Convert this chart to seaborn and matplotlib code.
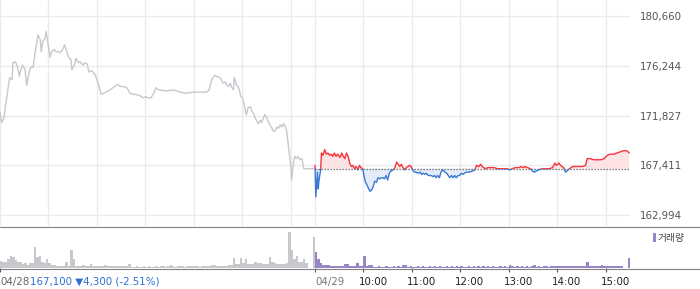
import numpy as np
import pandas as pd
import matplotlib
matplotlib.use("Agg")
import matplotlib.pyplot as plt
import matplotlib.transforms as mtrans
from matplotlib.patches import Rectangle
from matplotlib.lines import Line2D
import seaborn as sns

# ---------------- data ----------------
# minutes after 09:00 and price for 04/28 (previous session, grey)
day1_minute = [0, 2, 5, 7, 9, 11, 12, 15, 16, 19, 21, 24, 25, 27, 28, 31, 33, 36, 38, 41,
               43, 45, 47, 50, 51, 53, 56, 57, 59, 62, 64, 67, 69, 72, 74, 77, 80, 83, 85, 88,
               89, 92, 94, 97, 99, 103, 105, 108, 110, 114, 118, 120, 123, 125, 128, 131, 136, 140, 144, 146,
               149, 152, 157, 161, 165, 168, 173, 177, 180, 183, 187, 191, 193, 196, 198, 206, 215, 223, 231, 239,
               248, 256, 259, 262, 266, 268, 272, 274, 276, 279, 281, 283, 285, 287, 289, 290, 291, 293, 295, 297,
               298, 300, 302, 304, 305, 307, 310, 312, 314, 316, 318, 320, 322, 324, 326, 328, 330, 332, 334, 336,
               338, 340, 343, 345, 347, 349, 351, 353, 355, 357, 358, 360, 361, 363, 365, 367, 369, 371, 374, 376,
               380, 386, 389]
day1_price = [172100, 171200, 171600, 172800, 173700, 174800, 175200, 175000, 176500, 176600,
              176300, 175300, 175700, 176100, 176300, 175900, 174500, 175600, 176100, 176100,
              177200, 178100, 179000, 178500, 177500, 178400, 178700, 179300, 178400, 177000,
              177500, 177700, 177500, 177500, 177400, 177600, 178100, 177400, 177000, 176800,
              175900, 176300, 176900, 176500, 176600, 176300, 176500, 176400, 175700, 175800,
              175400, 175000, 174300, 173700, 173800, 173900, 174100, 174300, 174500, 174600,
              174400, 174400, 174300, 173800, 173700, 173700, 173600, 173400, 173500, 173400,
              173400, 173900, 174300, 174100, 174100, 174000, 174100, 173900, 173800, 173900,
              173900, 173900, 174100, 175000, 175400, 175300, 175200, 175000, 174700, 174800,
              174500, 174400, 174700, 174300, 174100, 175200, 175000, 174500, 174400, 173900,
              173500, 173400, 172900, 172200, 171900, 172500, 172600, 172200, 172000, 171600,
              171300, 171100, 171400, 171200, 171600, 171900, 171700, 171300, 171000, 170800,
              170500, 170400, 170800, 170700, 171000, 170800, 171100, 170900, 170400, 169200,
              168600, 167400, 166100, 167400, 168200, 168000, 168200, 167900, 168000, 167100,
              167100, 167100, 167100]

# minutes after 09:00 and price for 04/29 (current session)
day2_minute = [0, 1, 3, 4, 5, 7, 8, 10, 12, 14, 16, 18, 20, 22, 24, 26, 28, 31, 33, 35,
               37, 39, 41, 43, 45, 47, 49, 51, 53, 55, 57, 59, 62, 64, 66, 68, 70, 72, 74, 76,
               78, 80, 82, 84, 86, 88, 90, 92, 94, 97, 99, 101, 103, 105, 107, 109, 111, 113, 115, 117,
               119, 121, 123, 125, 128, 130, 132, 134, 136, 138, 140, 142, 144, 146, 148, 150, 152, 154, 156, 158,
               161, 163, 165, 167, 169, 171, 173, 175, 177, 179, 181, 183, 185, 187, 191, 195, 198, 200, 203, 205,
               207, 209, 211, 214, 218, 222, 226, 230, 234, 238, 241, 244, 248, 253, 255, 258, 260, 263, 267, 269,
               272, 274, 277, 281, 286, 290, 294, 297, 299, 302, 304, 306, 308, 310, 312, 315, 319, 323, 327, 331,
               335, 337, 341, 345, 349, 354, 358, 362, 366, 370, 374, 378, 382, 386, 389]
day2_price = [167400, 164600, 166800, 165300, 166100, 167000, 168500, 168300, 168800, 168400,
              168500, 168300, 168400, 168200, 168500, 168200, 168400, 168100, 168500, 168200,
              168000, 168500, 168200, 167600, 167300, 167400, 167100, 167300, 167000, 167400,
              167200, 167100, 166000, 165700, 165400, 165100, 165200, 165500, 166000, 165900,
              166300, 166200, 166300, 166300, 166200, 166500, 166100, 166700, 166900, 167000,
              167200, 167700, 167500, 167300, 167500, 167200, 167000, 167200, 167300, 167400,
              167300, 167000, 166800, 166800, 166700, 166800, 166600, 166700, 166600, 166700,
              166500, 166500, 166500, 166400, 166500, 166300, 166500, 166300, 166800, 167000,
              166800, 166700, 166500, 166300, 166500, 166300, 166500, 166300, 166500, 166500,
              166700, 166600, 166700, 166800, 166800, 166900, 167000, 167400, 167300, 167500,
              167300, 167200, 167100, 167200, 167200, 167200, 167100, 167100, 167100, 167100,
              167000, 167100, 167200, 167200, 167300, 167200, 167300, 167200, 167100, 166900,
              166800, 166900, 167000, 167100, 167100, 167100, 167200, 167600, 167400, 167600,
              167400, 167300, 167200, 166800, 166900, 167100, 167300, 167300, 167300, 167300,
              167400, 168000, 168000, 167900, 167900, 167900, 168000, 168300, 168400, 168400,
              168500, 168600, 168700, 168700, 168500]

prev_close = 167100          # 04/28 close (dotted reference line)
session_minutes = 390        # 09:00 - 15:30
volume_step = 3              # minutes per volume bar

# volume (thousand shares) per 3-minute bucket
day1_volume = [7, 6, 6, 9, 12, 11, 8, 6, 6, 4,
               5, 3, 5, 5, 21, 11, 12, 6, 5, 9,
               5, 3, 3, 2, 2, 2, 2, 6, 2, 18,
               9, 2, 2, 2, 3, 2, 2, 4, 2, 2,
               2, 2, 2, 3, 2, 2, 2, 2, 2, 2,
               2, 2, 2, 4, 1.5, 1.5, 2, 1.5, 1.5, 2,
               1.5, 2, 1.5, 1.5, 2, 1.5, 2, 2, 1.5, 2,
               3, 2, 1.5, 2, 2, 2, 1.5, 2, 2, 2,
               2, 2, 1.5, 2, 2, 2, 2, 3, 3, 2,
               2, 2, 2, 2, 3, 3, 10, 4, 4, 10,
               5, 9, 4, 4, 4, 6, 5, 5, 4, 4,
               4, 11, 6, 5, 4, 4, 4, 4, 5, 36,
               18, 9, 12, 6, 6, 9, 5, 0, 0, 31]
day2_volume = [16, 9, 5, 3.5, 3.5, 3, 2, 2, 2, 2,
               2, 2, 4, 4, 2, 2, 2, 5, 2, 2,
               12, 2, 3, 3, 1.5, 1.5, 2, 1.5, 1.5, 2,
               1.5, 1.5, 2, 1.5, 2, 1.5, 3, 3, 1.5, 2,
               1.5, 1.5, 2, 1.5, 2, 1.5, 1.5, 2, 1.5, 2,
               1.5, 2, 1.5, 1.5, 2, 1.5, 2, 1.5, 2, 1.5,
               2, 1.5, 1.5, 2, 1.5, 2, 1.5, 2, 1.5, 2,
               1.5, 2, 1.5, 2, 1.5, 1.5, 2, 1.5, 2, 1.5,
               3, 2, 1.5, 2, 1.5, 2, 1.5, 2, 1.5, 2,
               3, 1.5, 2, 1.5, 2, 2, 1.5, 2, 2, 2,
               2, 2, 2, 2, 2.5, 2, 2, 2, 2, 2,
               2, 2, 6, 2, 2, 2, 2, 2, 3, 2,
               2, 2, 2, 2, 2, 2, 2, 0, 0, 10]

price_ticks = [180660, 176244, 171827, 167411, 162994]
date_labels = ["04/28", "04/29"]
hour_labels = ["10:00", "11:00", "12:00", "13:00", "14:00", "15:00"]
change_text = "167,100 ▼4,300 (-2.51%)"
volume_label = "거래량"

# ---------------- style ----------------
sns.set_theme(style="white")
plt.rcParams["font.family"] = ["DejaVu Sans", "Noto Sans CJK KR"]

GREY_LINE = "#c6c8ce"
RED = "#f2363d"
BLUE = "#3a78d4"
RED_FILL = "#fde3e4"
BLUE_FILL = "#e3ecf8"
GRID = "#ebebeb"
VOL_GREY = "#c8c8cc"
VOL_PURPLE = "#9785c8"
FS = 7.4

W, H = 700, 289
def fx(px):
    return px / W
def fy(py):
    return 1 - py / H

fig = plt.figure(figsize=(W / 100, H / 100), dpi=100)
fig.patch.set_facecolor("white")

axp = fig.add_axes([0, fy(226), fx(630), 226 / H])
axv = fig.add_axes([0, fy(268), fx(630), 42 / H])

# ---------------- price panel ----------------
t1 = np.array(day1_minute, dtype=float)
t2 = np.array(day2_minute, dtype=float) + session_minutes
p2 = np.array(day2_price, dtype=float)
df1 = pd.DataFrame({"t": t1, "price": day1_price})
df2 = pd.DataFrame({"t": t2, "price": p2})

axp.fill_between(t2, p2, prev_close, where=p2 >= prev_close, interpolate=True,
                 color=RED_FILL, lw=0, zorder=1)
axp.fill_between(t2, p2, prev_close, where=p2 <= prev_close, interpolate=True,
                 color=BLUE_FILL, lw=0, zorder=1)
axp.plot([session_minutes, 2 * session_minutes], [prev_close, prev_close],
         ls=(0, (1, 1.4)), color="#555555", lw=0.9, zorder=2)

sns.lineplot(data=df1, x="t", y="price", color=GREY_LINE, linewidth=1.0,
             estimator=None, ax=axp, zorder=3)
sns.lineplot(data=df2, x="t", y="price", color=RED, linewidth=1.0,
             estimator=None, ax=axp, zorder=3)
red_line = axp.lines[-1]
sns.lineplot(data=df2, x="t", y="price", color=BLUE, linewidth=1.0,
             estimator=None, ax=axp, zorder=3)
blue_line = axp.lines[-1]
red_line.set_clip_path(Rectangle((session_minutes - 1, prev_close), 400, 40000,
                                 transform=axp.transData))
blue_line.set_clip_path(Rectangle((session_minutes - 1, prev_close - 40000), 400, 40000,
                                  transform=axp.transData))

grid_x = [0, 60, 120, 180, 240, 300, 360, 390, 450, 510, 570, 630, 690, 750]
axp.set_xticks(grid_x)
axp.set_yticks(price_ticks)
axp.set_yticklabels([f"{v:,}" for v in price_ticks])
axp.grid(True, color=GRID, lw=1.0)
axp.set_axisbelow(True)
axp.set_xlim(0, 2 * session_minutes)
axp.set_ylim(162018, 182080)
axp.yaxis.tick_right()
axp.tick_params(axis="x", length=0, labelbottom=False)
axp.tick_params(axis="y", length=0, pad=7.2, labelsize=FS, labelcolor="#555555",
                labelright=True, labelleft=False)
axp.set_xlabel("")
axp.set_ylabel("")
for s in axp.spines.values():
    s.set_visible(False)

# ---------------- volume panel ----------------
vt1 = np.arange(len(day1_volume)) * volume_step
vt2 = np.arange(len(day2_volume)) * volume_step + session_minutes
axv.bar(vt1, day1_volume, width=volume_step, align="edge", color=VOL_GREY, lw=0)
axv.bar(vt2, day2_volume, width=volume_step, align="edge", color=VOL_PURPLE, lw=0)
axv.set_xlim(0, 2 * session_minutes)
axv.set_ylim(0, 42)
axv.set_yticks([])
axv.set_xlabel("")
axv.set_ylabel("")
tick_x = [0, 390, 450, 510, 570, 630, 690, 750]
axv.set_xticks(tick_x)
axv.tick_params(axis="x", bottom=True, length=2.9, width=0.8, color="#555555",
                direction="out", labelbottom=False)
for s in axv.spines.values():
    s.set_visible(False)

# separator / axis lines spanning full width
for ypx in (226.5, 268.5):
    fig.add_artist(Line2D([0, 1], [fy(ypx), fy(ypx)], transform=fig.transFigure,
                          color="#808080", lw=0.8, zorder=10))

# x labels
trans = mtrans.blended_transform_factory(axv.transData, fig.transFigure)
shift = mtrans.ScaledTranslation(-5 / 100, 0, fig.dpi_scale_trans)
label_y = fy(282)
first = axv.text(0, label_y, date_labels[0], transform=trans, ha="left", va="center",
                 fontsize=FS, color="#666666", clip_on=False)
axv.annotate(change_text, xy=(1, 0.5), xycoords=first, xytext=(0.5, 0),
             textcoords="offset points", ha="left", va="center",
             fontsize=FS, color="#2e6fd3", annotation_clip=False)
axv.text(session_minutes, label_y, date_labels[1], transform=trans, ha="left", va="center",
         fontsize=FS, color="#777777", clip_on=False)
for i, lab in enumerate(hour_labels):
    axv.text(session_minutes + 60 * (i + 1), label_y, lab, transform=trans + shift,
             ha="left", va="center", fontsize=FS, color="#222222", clip_on=False)

# volume legend
fig.add_artist(Rectangle((fx(653), fy(242)), fx(3), 9 / H, transform=fig.transFigure,
                         color=VOL_PURPLE, lw=0))
fig.text(fx(658), fy(237.5), volume_label, ha="left", va="center", fontsize=7,
         color="#444444")

fig.savefig("out.png", dpi=100, facecolor="white")
